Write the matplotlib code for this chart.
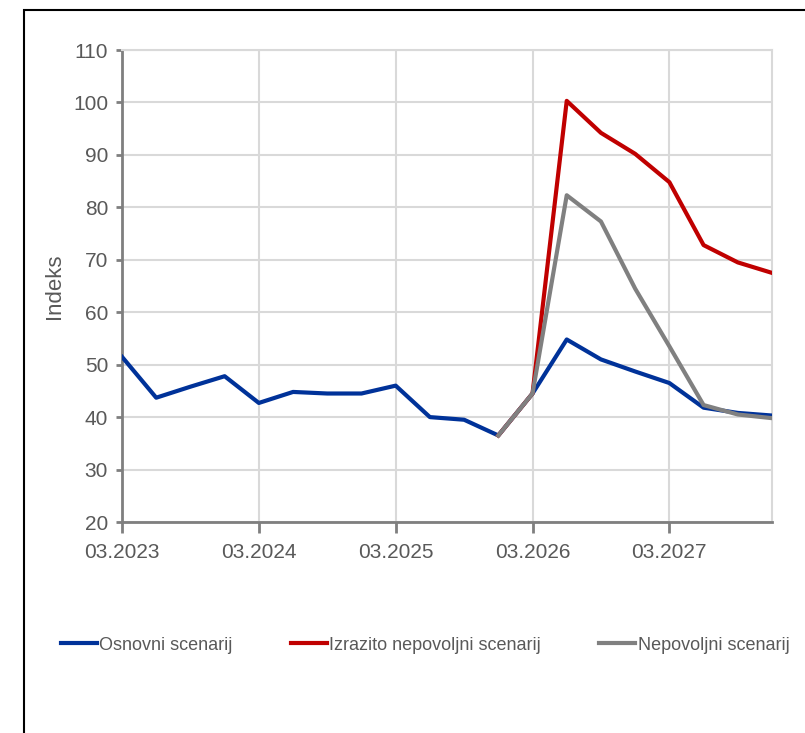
import matplotlib
matplotlib.use("Agg")
import matplotlib.pyplot as plt
from matplotlib.patches import Rectangle

plt.rcParams['font.family'] = ['Liberation Sans Narrow', 'Liberation Sans', 'DejaVu Sans']

# quarterly points, 03.2023 .. 12.2027
quarters = list(range(20))
tick_pos = [0, 4, 8, 12, 16]
tick_labels = ["03.2023", "03.2024", "03.2025", "03.2026", "03.2027"]

osnovni = [51.5, 43.7, 45.8, 47.8, 42.7, 44.8, 44.5, 44.5, 46.0, 40.0,
           39.5, 36.5, 44.5, 54.8, 51.0, 48.7, 46.5, 41.8, 40.8, 40.3]
# scenarios branch off from 12.2025
scen_x = list(range(11, 20))
izrazito = [36.5, 44.5, 100.3, 94.2, 90.2, 84.8, 72.8, 69.5, 67.5]
nepovoljni = [36.5, 44.5, 82.3, 77.3, 64.5, 53.5, 42.3, 40.5, 39.8]

txt = '#595959'
grid = '#d9d9d9'

fig = plt.figure(figsize=(8.05, 7.33), dpi=100)
ax = fig.add_axes([122/805, 1-522/733, 650/805, 472/733])

ax.plot(quarters, osnovni, color='#003299', lw=3, label='Osnovni scenarij', zorder=3)
ax.plot(scen_x, izrazito, color='#c00000', lw=3, label='Izrazito nepovoljni scenarij', zorder=4)
ax.plot(scen_x, nepovoljni, color='#808080', lw=3, label='Nepovoljni scenarij', zorder=5)

ax.set_xlim(0, 19)
ax.set_ylim(20, 110)
ax.set_yticks(range(20, 111, 10))
ax.set_xticks(tick_pos)
ax.set_xticklabels(tick_labels)
ax.grid(True, color=grid, lw=1.5, zorder=0)
ax.set_axisbelow(True)

for s in ['top', 'right']:
    ax.spines[s].set_color(grid)
    ax.spines[s].set_linewidth(1.5)
for s in ['left', 'bottom']:
    ax.spines[s].set_color('#7f7f7f')
    ax.spines[s].set_linewidth(2)

ax.tick_params(axis='y', colors='#7f7f7f', labelcolor=txt, labelsize=15, length=4, width=2, pad=6)
ax.tick_params(axis='x', colors='#7f7f7f', labelcolor=txt, labelsize=15, length=8, width=2, pad=7)
ax.set_ylabel('Indeks', color=txt, fontsize=16, labelpad=6)

leg = fig.legend(loc='center', bbox_to_anchor=(425/805, 1-645/733), ncol=3, frameon=False,
                 fontsize=13, handlelength=2.0, handletextpad=0.15, columnspacing=3.2)
for t in leg.get_texts():
    t.set_color(txt)

# outer frame as in the reference
fig.patches.append(Rectangle((24/805, -0.1), 1.2, 1-10/733+0.1, transform=fig.transFigure,
                             fill=False, edgecolor='black', lw=1.5))

fig.savefig('out.png', dpi=100)
